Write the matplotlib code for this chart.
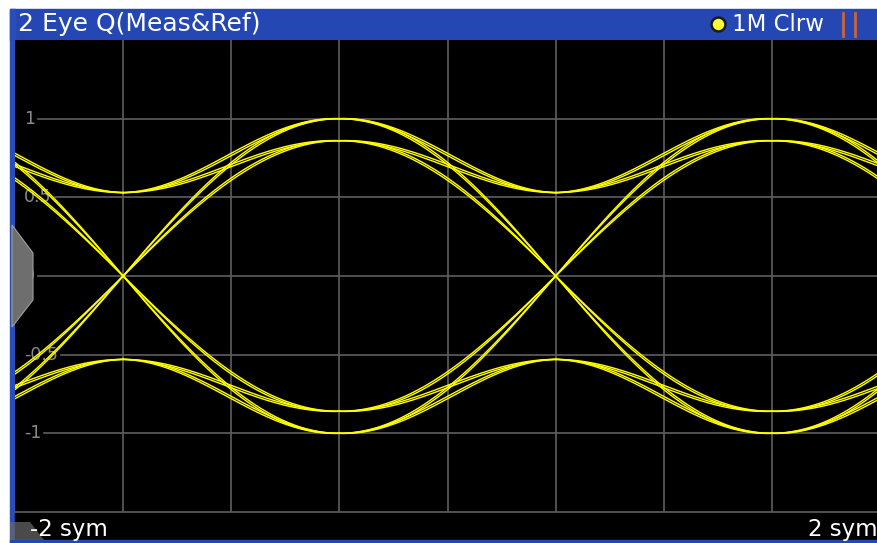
import numpy as np
import matplotlib
matplotlib.use("Agg")
import matplotlib.pyplot as plt
from matplotlib.patches import Rectangle, Polygon
from matplotlib.lines import Line2D

# eye diagram values (Q channel, measured & reference)
peak_times = [-2.5, -0.5, 1.5]        # eye centres (sym)
peak_levels = [1.0, 0.86]             # amplitude at the eye centre
hold_level = 0.53                     # level at a crossing instant without transition
meas_offset = 0.015                   # measured vs reference deviation mid-segment

y_ticks = [1, 0.5, 0, -0.5, -1]
y_tick_labels = ["1", "0.5", "0", "-0.5", "-1"]
x_grid = [-1.5, -1.0, -0.5, 0.0, 0.5, 1.0, 1.5]

title = "2 Eye Q(Meas&Ref)"
trace_info = "1M Clrw"
x_start, x_stop = "-2 sym", "2 sym"

W, H = 877, 543
def fx(px):
    return px / W
def fy(py):
    return 1 - py / H

fig = plt.figure(figsize=(W / 100, H / 100), dpi=100, facecolor="white")

blue = "#2447b3"
grid_col = "#5e5e5e"
yellow = "#ffff00"

# frame: title bar, left border, bottom strip
fig.add_artist(Rectangle((fx(10), fy(40)), fx(877) - fx(10), fy(9) - fy(40),
                         transform=fig.transFigure, color=blue, zorder=0))
fig.add_artist(Rectangle((fx(10), fy(543)), fx(15) - fx(10), fy(9) - fy(543),
                         transform=fig.transFigure, color="#2a4db8", zorder=0))
fig.add_artist(Rectangle((fx(15), fy(540)), fx(877) - fx(15), fy(512) - fy(540),
                         transform=fig.transFigure, color="black", zorder=0))
fig.add_artist(Rectangle((fx(10), fy(543)), fx(877) - fx(10), fy(540) - fy(543),
                         transform=fig.transFigure, color=blue, zorder=0))

ax = fig.add_axes([fx(15), fy(512), (880 - 15) / W, (512 - 40) / H])
ax.set_facecolor("black")
ax.set_xlim(-2, 2)
ax.set_ylim(-1.5, 1.5)
for s in ax.spines.values():
    s.set_visible(False)
ax.set_xticks([])
ax.set_yticks([])

for x in x_grid:
    ax.axvline(x, color=grid_col, lw=1.2, zorder=1)
fig.add_artist(Line2D([fx(15), fx(877)], [fy(512), fy(512)], transform=fig.transFigure,
                      color=grid_col, lw=1.2, zorder=3))

# tick labels sit inside the plot; the grid line starts right after each label
fig.canvas.draw()
renderer = fig.canvas.get_renderer()
for y, lab in zip(y_ticks, y_tick_labels):
    txt = ax.text(0.0105, y, lab, transform=ax.get_yaxis_transform(), ha="left",
                  va="center", fontsize=12.5, color="#8a8a8a", zorder=2)
    bb = txt.get_window_extent(renderer)
    x0 = ax.transAxes.inverted().transform((bb.x1 + 3, 0))[0]
    ax.axhline(y, xmin=x0, color=grid_col, lw=1.2, zorder=1)

# traces: each half segment from an eye centre to the neighbouring crossing instant
d = np.linspace(0, 1, 90)
for tp in peak_times:
    for sign in (1, -1):
        for v in peak_levels:
            for side in (-1, 1):
                t = tp + side * d
                cross = sign * v * np.cos(np.pi / 2 * d)
                hold = sign * (hold_level + (v - hold_level) * (1 + np.cos(np.pi * d)) / 2)
                bump = sign * meas_offset * np.sin(np.pi * d)
                for yv in (cross, hold):
                    ax.plot(t, yv, color=yellow, lw=1.0, zorder=4)
                    ax.plot(t, yv + bump, color=yellow, lw=1.0, zorder=4)

# left handle and bottom-left tab
fig.add_artist(Polygon([(fx(12), fy(225)), (fx(33), fy(253)), (fx(33), fy(300)),
                        (fx(12), fy(327))], closed=True, transform=fig.transFigure,
                       facecolor="#6e6e6e", edgecolor="#a0a0a0", lw=0.8, zorder=5))
fig.add_artist(Polygon([(fx(10), fy(522)), (fx(30), fy(522)), (fx(44), fy(540)),
                        (fx(10), fy(540))], closed=True, transform=fig.transFigure,
                       facecolor="#6a6a6a", edgecolor="none", alpha=0.7, zorder=1))

# title bar texts
fig.text(fx(18), fy(31), title, color="white", fontsize=18, ha="left", va="baseline")
fig.add_artist(Line2D([fx(718)], [fy(24)], transform=fig.transFigure, marker="o",
                      markersize=10, markerfacecolor="#ffff30",
                      markeredgecolor="#1a1a1a", markeredgewidth=1.8))
fig.text(fx(732), fy(31), trace_info, color="white", fontsize=16.5, ha="left", va="baseline")
for bx in (843, 855):
    fig.add_artist(Line2D([fx(bx), fx(bx)], [fy(13), fy(36)], transform=fig.transFigure,
                          color="#c8643c", lw=2))

# x range labels
fig.text(fx(30), fy(536), x_start, color="white", fontsize=16.5, ha="left", va="baseline", zorder=6)
fig.text(fx(878), fy(536), x_stop, color="white", fontsize=16.5, ha="right", va="baseline", zorder=6)

fig.savefig("out.png", dpi=100, facecolor="white")
